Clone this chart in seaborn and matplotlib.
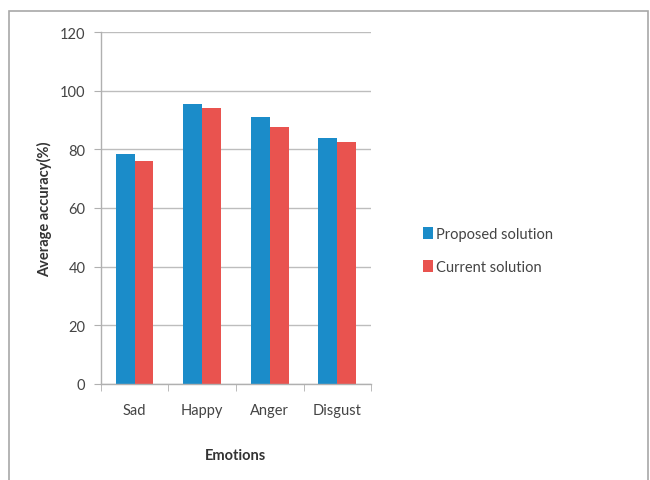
import matplotlib
matplotlib.use('Agg')
import matplotlib.pyplot as plt
import numpy as np
import pandas as pd
import seaborn as sns
from matplotlib.patches import Rectangle

emotions = ['Sad', 'Happy', 'Anger', 'Disgust']
proposed = [78.5, 95.5, 91.0, 84.0]
current = [76.0, 94.0, 87.5, 82.5]
series = ['Proposed solution', 'Current solution']
colors = ['#1b8cc9', '#e9534f']

df = pd.DataFrame({
    'Emotions': emotions * 2,
    'value': proposed + current,
    'series': [series[0]] * len(emotions) + [series[1]] * len(emotions),
})

sns.set_style('white')
plt.rcParams['font.family'] = ['Lato', 'DejaVu Sans']

fig = plt.figure(figsize=(6.5, 4.81), dpi=100)
ax = fig.add_axes([0.155, 0.2, 0.416, 0.731])

sns.barplot(data=df, x='Emotions', y='value', hue='series', palette=colors,
            width=0.56, gap=0, saturation=1, linewidth=0, ax=ax, legend=True)

ax.set_ylim(0, 120)
ax.set_yticks(np.arange(0, 121, 20))
ax.set_xlim(-0.5, len(emotions) - 0.5)
ax.yaxis.grid(True, color='#bdbdbd', linewidth=1)
ax.set_axisbelow(True)
for s in ['top', 'right']:
    ax.spines[s].set_visible(False)
for s in ['left', 'bottom']:
    ax.spines[s].set_color('#b0b0b0')
    ax.spines[s].set_linewidth(1)

# excel-style tick marks between categories
ax.set_xticks(np.arange(-0.5, len(emotions)), minor=True)
ax.tick_params(axis='x', which='minor', length=5, color='#b0b0b0', direction='out', bottom=True)
ax.tick_params(axis='x', which='major', length=0, pad=14, labelsize=10.5, labelcolor='#444444')
ax.tick_params(axis='y', length=5, color='#b0b0b0', left=True, direction='out', pad=6,
               labelsize=10.5, labelcolor='#444444')

ax.set_xlabel('Emotions', fontsize=10.5, fontweight='bold', color='#333333', labelpad=22)
ax.set_ylabel('Average accuracy(%)', fontsize=10.5, fontweight='bold', color='#333333', labelpad=6)

handles, labels = ax.get_legend_handles_labels()
ax.get_legend().remove()
fig.legend(handles, labels, loc='center left', bbox_to_anchor=(0.63, 0.477),
           frameon=False, fontsize=10.5, handlelength=0.7, handleheight=0.9,
           handletextpad=0.25, labelspacing=1.3, labelcolor='#444444')

# outer frame
fig.patches.append(Rectangle((9 / 650, -0.05), 639 / 650, 1.05 - 12 / 481,
                             transform=fig.transFigure, fill=False,
                             edgecolor='#a8a8a8', linewidth=1.2))

fig.savefig('out.png', dpi=100)
